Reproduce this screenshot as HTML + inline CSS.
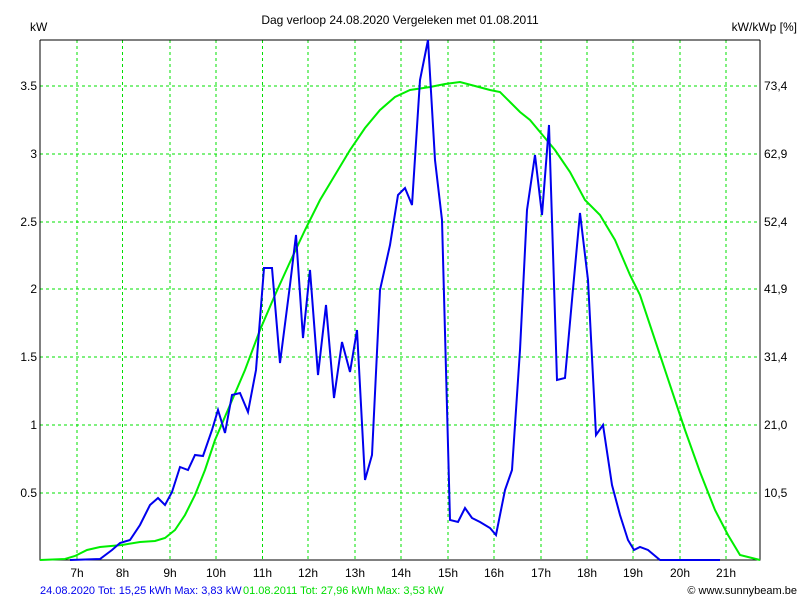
<!DOCTYPE html><html><head><style>body{margin:0;background:#fff}svg{display:block;font-family:"Liberation Sans",sans-serif;font-size:12px}</style></head><body>
<svg width="800" height="600" xmlns="http://www.w3.org/2000/svg">
<rect width="800" height="600" fill="#fff"/>
<g stroke="#00e000" stroke-dasharray="3,3" stroke-width="1">
<line x1="77" y1="40" x2="77" y2="560"/><line x1="122.5" y1="40" x2="122.5" y2="560"/><line x1="170" y1="40" x2="170" y2="560"/><line x1="216" y1="40" x2="216" y2="560"/><line x1="262.5" y1="40" x2="262.5" y2="560"/><line x1="308" y1="40" x2="308" y2="560"/><line x1="355" y1="40" x2="355" y2="560"/><line x1="401" y1="40" x2="401" y2="560"/><line x1="448" y1="40" x2="448" y2="560"/><line x1="494" y1="40" x2="494" y2="560"/><line x1="541" y1="40" x2="541" y2="560"/><line x1="587" y1="40" x2="587" y2="560"/><line x1="633" y1="40" x2="633" y2="560"/><line x1="680" y1="40" x2="680" y2="560"/><line x1="726" y1="40" x2="726" y2="560"/>
<line x1="40" y1="86" x2="760" y2="86"/><line x1="40" y1="154" x2="760" y2="154"/><line x1="40" y1="222" x2="760" y2="222"/><line x1="40" y1="289" x2="760" y2="289"/><line x1="40" y1="357" x2="760" y2="357"/><line x1="40" y1="425" x2="760" y2="425"/><line x1="40" y1="493" x2="760" y2="493"/>
</g>
<polyline fill="none" stroke="#000" stroke-width="1" points="40,40 40,560 760,560 760,40"/>
<line x1="40" y1="40" x2="760" y2="40" stroke="#000"/>
<polyline fill="none" stroke="#00ee00" stroke-width="2" points="40,560 65,559 75,556 87,550 100,547 122,545 140,542 155,541 165,538 175,530 185,515 195,495 205,470 215,440 230,405 245,370 260,330 275,295 290,262 305,230 320,200 335,175 350,150 365,128 380,110 395,97 410,90 430,87 445,84 460,82 475,86 490,90 500,92 510,102 520,112 530,120 540,132 555,150 570,172 585,200 600,215 615,240 630,275 640,295 655,340 670,385 685,430 700,472 715,510 728,535 740,555 760,560"/>
<polyline fill="none" stroke="#0000ee" stroke-width="2" points="70,560 100,559 112,550 120,543 130,540 140,525 150,505 158,498 165,505 172,492 180,467 188,470 195,455 203,456 212,430 218,410 225,433 232,395 240,393 248,412 256,370 264,268 272,268 280,363 290,285 296,235 303,338 310,270 318,375 326,305 334,398 342,342 350,372 357,330 365,480 372,455 380,290 390,245 398,195 405,188 412,205 420,80 428,40 435,160 442,220 450,520 458,522 465,508 472,518 480,522 490,528 496,535 505,490 512,470 520,350 527,210 535,155 542,215 549,125 557,380 565,378 572,300 580,213 588,280 596,435 603,425 612,485 620,515 628,540 634,550 640,547 648,550 660,560 720,560"/>
<g fill="#000">
<text x="400" y="24" text-anchor="middle">Dag  verloop 24.08.2020   Vergeleken met 01.08.2011</text>
<text x="30" y="31">kW</text>
<text x="797" y="31" text-anchor="end">kW/kWp [%]</text>
<g text-anchor="end"><text x="37" y="90">3.5</text><text x="37" y="158">3</text><text x="37" y="226">2.5</text><text x="37" y="293">2</text><text x="37" y="361">1.5</text><text x="37" y="429">1</text><text x="37" y="497">0.5</text></g>
<g><text x="764" y="90">73,4</text><text x="764" y="158">62,9</text><text x="764" y="226">52,4</text><text x="764" y="293">41,9</text><text x="764" y="361">31,4</text><text x="764" y="429">21,0</text><text x="764" y="497">10,5</text></g>
<g text-anchor="middle"><text x="77" y="577">7h</text><text x="122.5" y="577">8h</text><text x="170" y="577">9h</text><text x="216" y="577">10h</text><text x="262.5" y="577">11h</text><text x="308" y="577">12h</text><text x="355" y="577">13h</text><text x="401" y="577">14h</text><text x="448" y="577">15h</text><text x="494" y="577">16h</text><text x="541" y="577">17h</text><text x="587" y="577">18h</text><text x="633" y="577">19h</text><text x="680" y="577">20h</text><text x="726" y="577">21h</text></g>
<text x="40" y="594" font-size="11" fill="#0000ee">24.08.2020 Tot: 15,25 kWh Max: 3,83 kW</text>
<text x="243" y="594" font-size="11" fill="#00dd00">01.08.2011 Tot: 27,96 kWh Max: 3,53 kW</text>
<text x="797" y="594" font-size="11" text-anchor="end">© www.sunnybeam.be</text>
</g>
</svg></body></html>
